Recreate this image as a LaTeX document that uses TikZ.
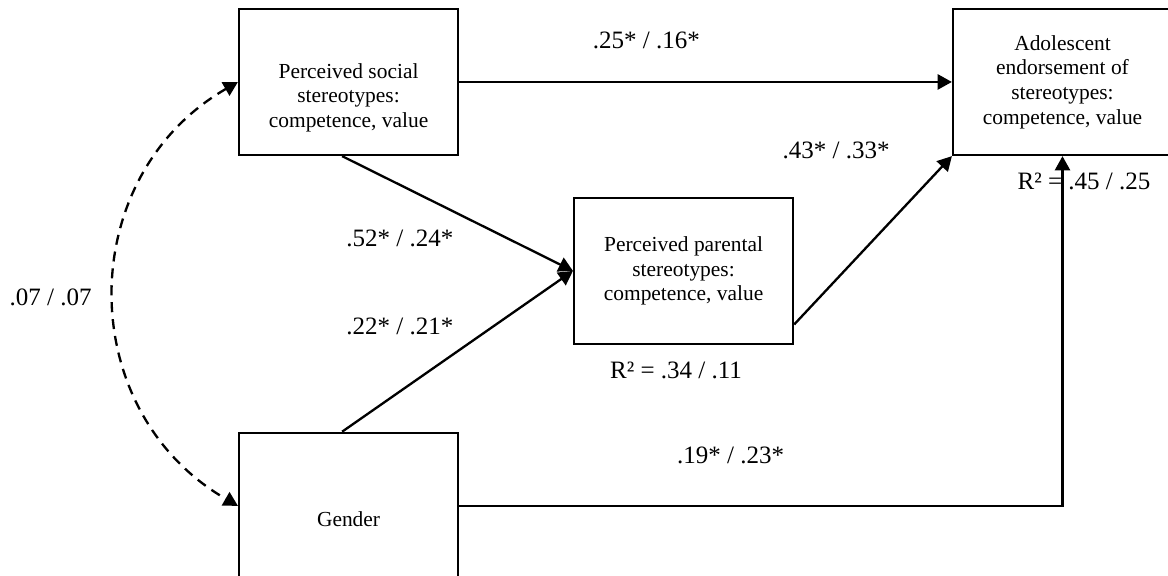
\documentclass[tikz,border=0pt]{standalone}
\usepackage{fontspec}
\setmainfont{Liberation Serif}
\usetikzlibrary{positioning, arrows.meta}

\tikzset{
  box/.style={draw, line width=1.3pt, minimum width=122.6pt, minimum height=81.8pt,
    align=center, inner sep=0pt, font=\fontsize{12}{13.8}\selectfont},
  coef/.style={font=\fontsize{14}{16}\selectfont, inner sep=1pt},
  link/.style={line width=1.3pt, ->},
  corr/.style={line width=1.3pt, <->, dash pattern=on 5.6pt off 3.9pt}
}
\newcommand{\lowtext}[1]{\raisebox{-9pt}[\height][\depth]{\begin{tabular}{@{}c@{}}#1\end{tabular}}}

\begin{document}
\begin{tikzpicture}[>={Triangle[length=8pt,width=8.5pt]}, on grid]
  \useasboundingbox (0,0) rectangle (654.08pt,-322.56pt);

  \node[box] (social) at (195.2pt,-45.9pt) {\lowtext{Perceived social\\stereotypes:\\competence, value}};
  \node[box] (parental) [below right=105.8pt and 187.6pt of social] {Perceived parental\\stereotypes:\\competence, value};
  \node[box] (adolescent) [right=399.8pt of social] {Adolescent\\endorsement of\\stereotypes:\\competence, value};
  \node[box] (gender) [below=237.4pt of social] {\lowtext{Gender}};

  \node[coef] (r2par) [below=8pt of parental.south, xshift=-4.2pt] {R² = .34 / .11};
  \node[coef] (r2ado) [below=8pt of adolescent.south, xshift=12pt] {R² = .45 / .25};

  \draw[link] (social) -- node[coef, pos=0.38, yshift=23.5pt] {.25* / .16*} (adolescent);
  \draw[link] ([xshift=-3.6pt]social.south) -- node[coef, pos=0.25, yshift=-30pt] {.52* / .24*} (parental.west);
  \draw[link] ([xshift=-3.6pt]gender.north) -- node[coef, pos=0.25, yshift=36.4pt] {.22* / .21*} (parental.west);
  \draw[link] ([yshift=-30pt]parental.east) -- node[coef, pos=0.5, xshift=-20.7pt, yshift=50.1pt] {.43* / .33*} (adolescent.south west);
  \draw[link] (gender.east) -| node[coef, pos=0.225, yshift=28pt] {.19* / .23*} (adolescent.south);

  % correlation between the two predictors
  \draw[corr] (social.west) to[out=210, in=150, looseness=1.15]
    node[coef, pos=0.5, xshift=-35.8pt, yshift=-2pt] {.07 / .07} (gender.west);
\end{tikzpicture}
\end{document}
